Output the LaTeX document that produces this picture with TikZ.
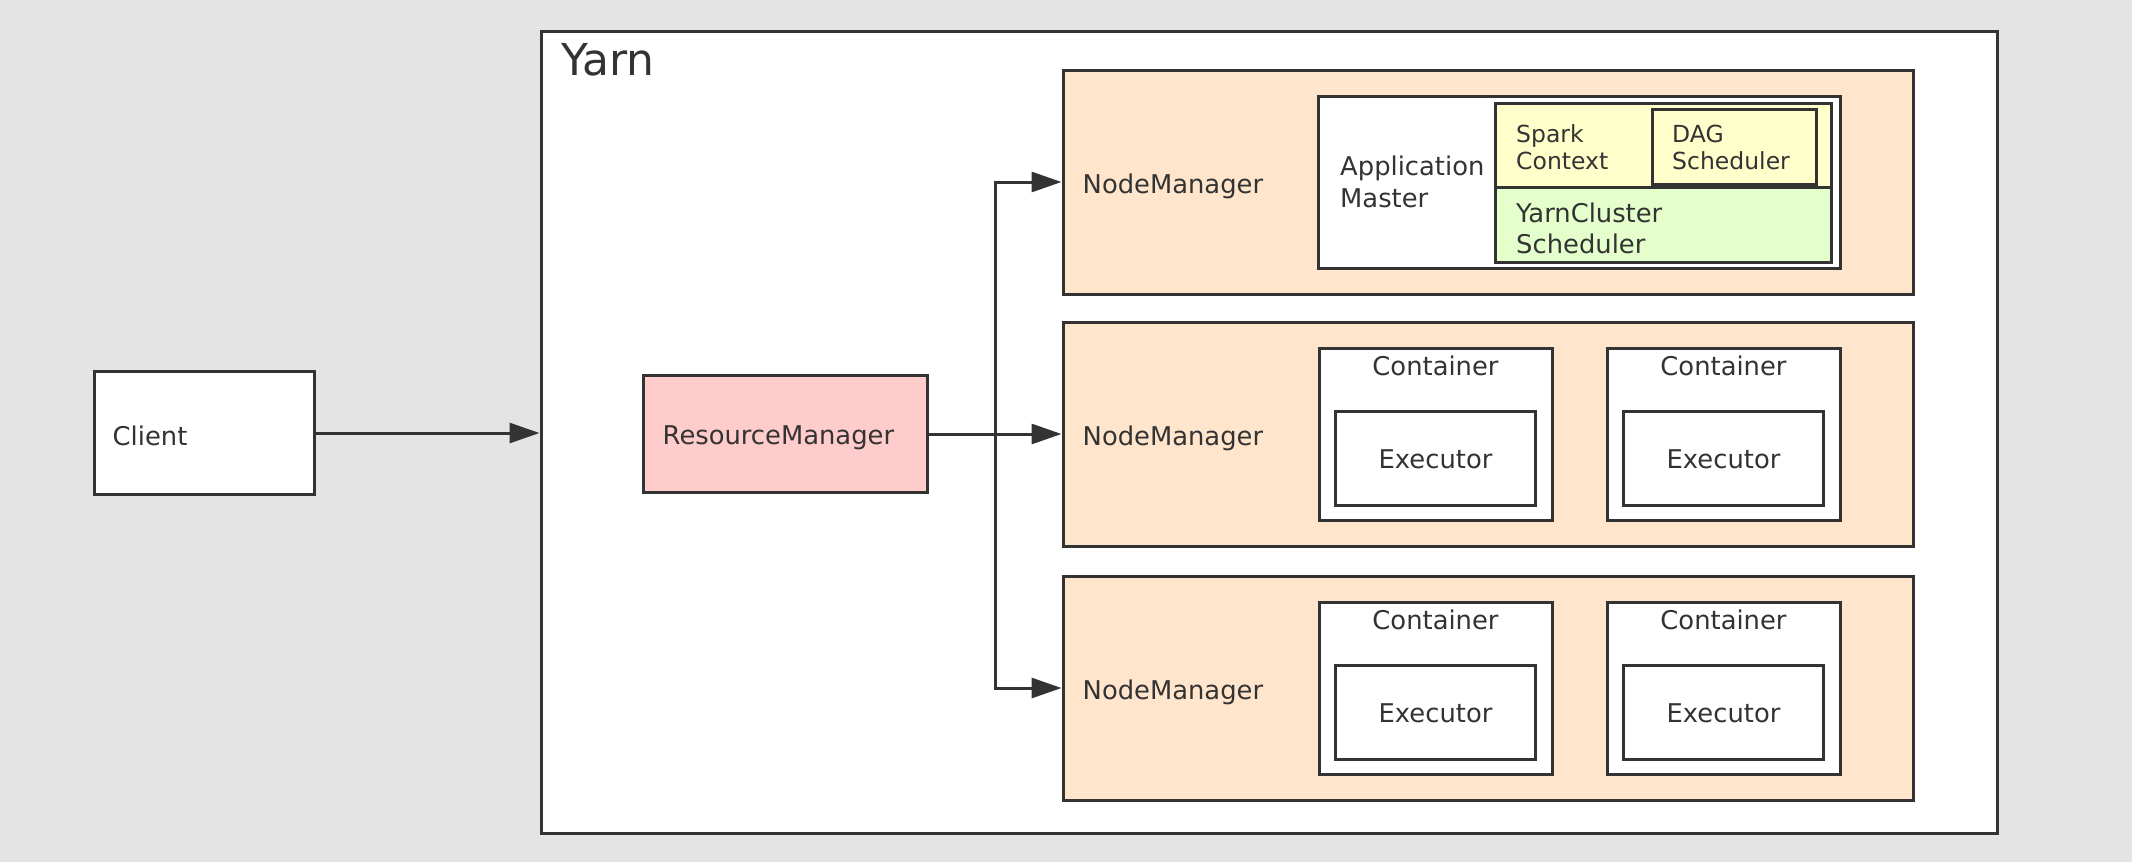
\documentclass[tikz,border=0pt]{standalone}
\usepackage{fontspec}
\setmainfont{DejaVu Sans}
\usetikzlibrary{arrows.meta}
\definecolor{bgc}{HTML}{E4E4E4}
\definecolor{linec}{HTML}{333333}
\definecolor{peach}{HTML}{FFE5CC}
\definecolor{pinkc}{HTML}{FFCCCC}
\definecolor{yelc}{HTML}{FFFFCC}
\definecolor{greenc}{HTML}{E5FFCC}
\begin{document}
\begin{tikzpicture}[x=1pt,y=-1pt,
  bx/.style 2 args={draw=linec,line width=3pt,inner sep=0pt,minimum width=#1,minimum height=#2},
  txt/.style={text=linec,inner sep=0pt,font=\fontsize{25.8}{32}\selectfont,align=left},
  stxt/.style={text=linec,inner sep=0pt,font=\fontsize{23.5}{27}\selectfont,align=left},
  arr/.style={draw=linec,line width=3pt,-{Triangle[length=30pt,width=20pt]}}]
\fill[bgc] (0,0) rectangle (2132,862);
\useasboundingbox (0,0) rectangle (2132,862);
% Yarn
\node[bx={1456pt}{802pt},fill=white] (yarn) at (1269,432) {};
\node[txt,anchor=west,font=\fontsize{44}{50}\selectfont] (yarnlbl) at (561,60) {Yarn};
% Client
\node[bx={220pt}{123pt},fill=white] (client) at (204,433) {};
\node[txt,anchor=west] (clientlbl) at ([xshift=20pt,yshift=-3pt]client.west) {Client};
% ResourceManager
\node[bx={284pt}{117pt},fill=pinkc] (rm) at (785,434) {};
\node[txt,anchor=west] (rmlbl) at ([xshift=21pt,yshift=-4pt]rm.west) {ResourceManager};
% NodeManagers
\foreach \i/\cy in {1/182,2/434,3/688}{
  \node[bx={850pt}{224pt},fill=peach] (nm\i) at (1488,\cy) {};
  \node[txt,anchor=west] (nmlbl\i) at ([xshift=21pt,yshift=-4pt]nm\i.west) {NodeManager};
}
% Application Master
\node[bx={522pt}{172pt},fill=white] (am) at (1579.5,182) {};
\node[txt,anchor=west] (amlbl) at (1340,182) {Application\\Master};
\node[bx={336pt}{84pt},fill=yelc] (sc) at (1663,145) {};
\node[bx={336pt}{75pt},fill=greenc] (ycs) at (1663,224.5) {};
\node[bx={164pt}{75pt},fill=yelc] (dag) at (1734,146.5) {};
\node[stxt,anchor=west] (sclbl) at (1516,147) {Spark\\Context};
\node[stxt,anchor=west] (daglbl) at (1672,147) {DAG\\Scheduler};
\node[txt,anchor=west,font=\fontsize{25.8}{31}\selectfont] (ycslbl) at (1516,228) {YarnCluster\\Scheduler};
% Containers
\foreach \n/\cy in {2/434,3/688}{
  \foreach \k/\cx in {a/1435.5,b/1723.5}{
    \node[bx={233pt}{172pt},fill=white] (c\n\k) at (\cx,\cy) {};
    \node[txt,anchor=center] (cl\n\k) at ([yshift=-19pt]c\n\k.north) {Container};
    \node[bx={200pt}{94pt},fill=white] (e\n\k) at (\cx,\cy+24) {};
    \node[txt,anchor=center] (el\n\k) at ([yshift=-1.5pt]e\n\k.center) {Executor};
  }
}
% connectors
\draw[arr] (client.east) -- (yarn.west |- client.east);
\coordinate (j) at (995,434);
\draw[arr] (rm.east) -- (j) |- (nm1.west);
\draw[arr] (rm.east) -- (nm2.west);
\draw[arr] (rm.east) -- (j) |- (nm3.west);
\end{tikzpicture}
\end{document}
